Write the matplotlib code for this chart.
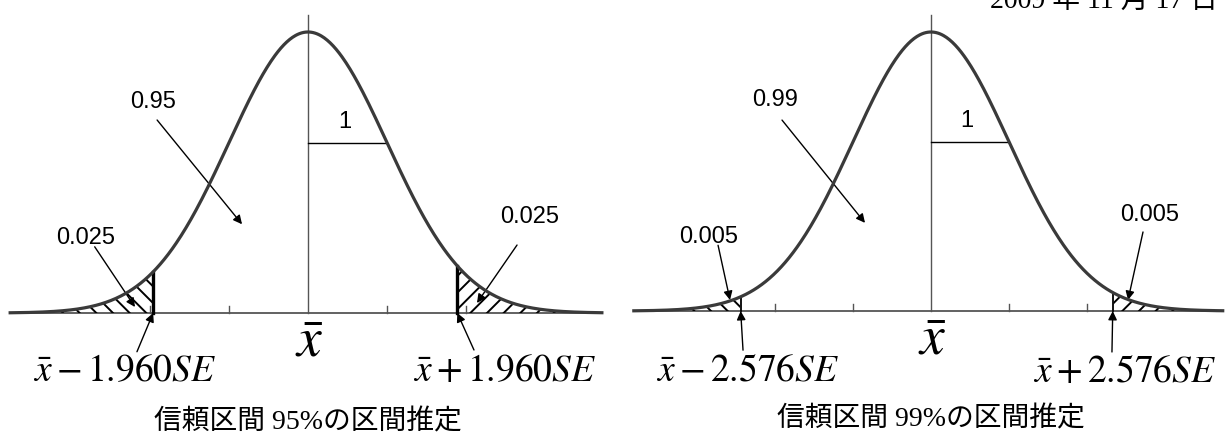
import matplotlib
matplotlib.use("Agg")
import matplotlib.pyplot as plt
import numpy as np

plt.rcParams['mathtext.fontset'] = 'stix'
plt.rcParams['hatch.linewidth'] = 1.4

# data
conf = ['0.95', '0.99']
tail = ['0.025', '0.005']
z_txt = ['1.960', '2.576']
captions = ['信頼区間 95%の区間推定', '信頼区間 99%の区間推定']
cut_lo = [-1.96, -2.44]
cut_hi = [1.89, 2.33]
z_start = [-3.77, -3.81]
z_end = [3.72, 3.74]
ticks = [-2, -1, 1, 2]

# pixel layout of each panel: axes left, center x, sd in px, baseline y, peak y
px_left = [0, 613]
px_cx = [308, 931]
px_sd = [79, 78]
px_base = [313, 311]
px_peak = [32, 32]

# annotation places (z, y) per panel
conf_xy = [(-1.96, 0.300), (-2.0, 0.302)]
conf_tail = [(-1.91, 0.274), (-1.91, 0.273)]
conf_head = [(-0.835, 0.126), (-0.846, 0.126)]
lt_xy = [(-2.81, 0.106), (-2.846, 0.106)]
lt_tail = [(-2.70, 0.094), (-2.73, 0.094)]
lt_head = [(-2.19, 0.0085), (-2.577, 0.0157)]
rt_xy = [(2.81, 0.136), (2.808, 0.137)]
rt_tail = [(2.646, 0.0965), (2.718, 0.113)]
rt_head = [(2.139, 0.0142), (2.526, 0.0157)]
lo_xy = [(-2.316, -0.082), (-2.346, -0.085)]
lo_tail = [(-2.165, -0.055), (-2.41, -0.056)]
hi_xy = [(2.49, -0.082), (2.487, -0.087)]
hi_tail = [(2.101, -0.0525), (2.32, -0.0586)]
cut_lw = [2.4, 1.3]


def pdf(z):
    return np.exp(-0.5 * z ** 2) / np.sqrt(2 * np.pi)


W, H = 1226, 437
fig = plt.figure(figsize=(W / 100, H / 100), dpi=100)

arrow = dict(arrowstyle='-|>', lw=1.0, color='black', mutation_scale=13,
             shrinkA=0, shrinkB=0)
cjk = ['Liberation Serif', 'Noto Sans CJK JP']

for i in range(2):
    ax = fig.add_axes([px_left[i] / W, 0, 613 / W, 1])
    k = (px_base[i] - px_peak[i]) / pdf(0)
    cx = px_cx[i] - px_left[i]
    ax.set_xlim(-cx / px_sd[i], (613 - cx) / px_sd[i])
    ax.set_ylim(-(H - px_base[i]) / k, px_base[i] / k)
    ax.axis('off')

    z = np.linspace(z_start[i], z_end[i], 600)
    y = pdf(z)

    # baseline, center line, ticks
    ax.plot([z_start[i], z_end[i]], [0, 0], color='#555555', lw=1.3, zorder=1)
    ax.plot([0, 0], [0, (px_base[i] - 15) / k], color='#555555', lw=1.0, zorder=1)
    for t in ticks:
        ax.plot([t, t], [0, 7 / k], color='#555555', lw=1.0, zorder=1)

    # hatched tails
    zl = z[z <= cut_lo[i]]
    ax.fill_between(zl, 0, pdf(zl), facecolor='none', edgecolor='black',
                    hatch='\\\\', linewidth=0, zorder=2)
    zr = z[z >= cut_hi[i]]
    ax.fill_between(zr, 0, pdf(zr), facecolor='none', edgecolor='black',
                    hatch='//', linewidth=0, zorder=2)
    ax.plot([cut_lo[i], cut_lo[i]], [0, pdf(cut_lo[i])], color='black',
            lw=cut_lw[i], zorder=3)
    ax.plot([cut_hi[i], cut_hi[i]], [0, pdf(cut_hi[i])], color='black',
            lw=cut_lw[i], zorder=3)

    # curve
    ax.plot(z, y, color='#3a3a3a', lw=2.3, zorder=4)

    # sd marker
    ax.plot([0, 1], [pdf(1), pdf(1)], color='black', lw=1.0, zorder=3)
    ax.text(0.46, 0.271, '1', fontsize=17, family='Liberation Sans',
            ha='center', va='center')

    # labels and arrows
    ax.text(*conf_xy[i], conf[i], fontsize=17, family='Liberation Sans',
            ha='center', va='center')
    ax.annotate('', xy=conf_head[i], xytext=conf_tail[i], arrowprops=arrow)
    ax.text(*lt_xy[i], tail[i], fontsize=17, family='Liberation Sans',
            ha='center', va='center')
    ax.annotate('', xy=lt_head[i], xytext=lt_tail[i], arrowprops=arrow)
    ax.text(*rt_xy[i], tail[i], fontsize=17, family='Liberation Sans',
            ha='center', va='center')
    ax.annotate('', xy=rt_head[i], xytext=rt_tail[i], arrowprops=arrow)

    ax.text(*lo_xy[i], r'$\bar{x}-' + z_txt[i] + r'SE$', fontsize=27,
            ha='center', va='center')
    ax.annotate('', xy=(cut_lo[i], 0), xytext=lo_tail[i], arrowprops=arrow)
    ax.text(*hi_xy[i], r'$\bar{x}+' + z_txt[i] + r'SE$', fontsize=27,
            ha='center', va='center')
    ax.annotate('', xy=(cut_hi[i], 0), xytext=hi_tail[i], arrowprops=arrow)

    ax.text(0.02, -0.041, r'$\bar{x}$', fontsize=40, ha='center', va='center')

    ax.text(0, -0.155, captions[i], fontsize=20, family=cjk,
            ha='center', va='center')

# date line, cut off at the top of the page as in the source
fig.text(1218 / W, 1 - 8 / H, '2009 年 11 月 17 日', fontsize=20, family=cjk,
         ha='right', va='baseline')

fig.savefig('out.png', dpi=100)
